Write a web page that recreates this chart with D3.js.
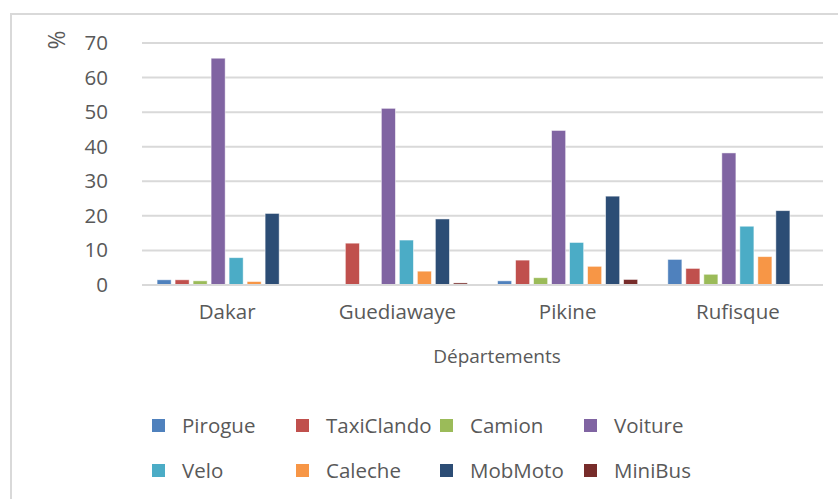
<!DOCTYPE html>
<html>
<head>
<meta charset="utf-8">
<script src="https://cdn.jsdelivr.net/npm/d3@7"></script>
<style>
  body { margin: 0; background: #fff; }
  svg { display: block; font-family: "Open Sans", sans-serif; }
</style>
</head>
<body>
<svg id="chart" width="838" height="499"></svg>
<script>
// Data
const departements = ["Dakar", "Guediawaye", "Pikine", "Rufisque"];
const modes = ["Pirogue", "TaxiClando", "Camion", "Voiture", "Velo", "Caleche", "MobMoto", "MiniBus"];
const pirogue    = [1.5, 0, 1.2, 7.4];
const taxiClando = [1.5, 12.1, 7.2, 4.8];
const camion     = [1.2, 0, 2.1, 3.1];
const voiture    = [65.6, 51.1, 44.7, 38.2];
const velo       = [7.9, 13.0, 12.3, 17.0];
const caleche    = [1.0, 4.0, 5.4, 8.2];
const mobMoto    = [20.7, 19.1, 25.7, 21.5];
const miniBus    = [0, 0.6, 1.6, 0];
const yTicks = [0, 10, 20, 30, 40, 50, 60, 70];

const colors = ["#4F81BD", "#C0504D", "#9BBB59", "#8064A2", "#4BACC6", "#F79646", "#2C4D75", "#772C2A"];
const seriesValues = [pirogue, taxiClando, camion, voiture, velo, caleche, mobMoto, miniBus];

const svg = d3.select("#chart");
const textColor = "#595959";
const gridColor = "#d9d9d9";

// Chart border (only left and top visible)
svg.append("path")
    .attr("d", "M11,499 V14 H838")
    .attr("fill", "none")
    .attr("stroke", gridColor)
    .attr("stroke-width", 2);

// Scales
const x0 = d3.scaleBand()
    .domain(departements)
    .range([142, 823])
    .paddingInner(0.154)
    .paddingOuter(0.077);

const x1 = d3.scaleBand()
    .domain(modes)
    .range([0, x0.bandwidth()])
    .paddingInner(0.22)
    .paddingOuter(0.11);

const y = d3.scaleLinear()
    .domain([0, 70])
    .range([285, 43]);

// Gridlines
svg.append("g")
    .selectAll("line")
    .data(yTicks)
    .join("line")
    .attr("x1", 142)
    .attr("x2", 823)
    .attr("y1", d => y(d))
    .attr("y2", d => y(d))
    .attr("stroke", gridColor)
    .attr("stroke-width", 2);

// Y axis labels
const yAxis = svg.append("g")
    .attr("transform", "translate(120,0)")
    .call(d3.axisLeft(y).tickValues(yTicks).tickSize(0).tickPadding(12));
yAxis.select(".domain").remove();
yAxis.selectAll("text")
    .attr("fill", textColor)
    .attr("font-size", 20.5)
    .attr("font-family", "Open Sans, sans-serif");

// Bars
const rows = departements.map((d, i) => ({ dep: d, values: modes.map((m, j) => ({ mode: m, value: seriesValues[j][i], color: colors[j] })) }));

svg.append("g")
    .selectAll("g")
    .data(rows)
    .join("g")
    .attr("transform", d => `translate(${x0(d.dep)},0)`)
    .selectAll("rect")
    .data(d => d.values.filter(v => v.value > 0))
    .join("rect")
    .attr("x", d => x1(d.mode))
    .attr("width", x1.bandwidth())
    .attr("y", d => y(d.value))
    .attr("height", d => y(0) - y(d.value))
    .attr("fill", d => d.color)
    .attr("stroke", "#fff")
    .attr("stroke-opacity", 0.6)
    .attr("stroke-width", 0.8);

// Baseline
svg.append("line")
    .attr("x1", 142).attr("x2", 823)
    .attr("y1", y(0)).attr("y2", y(0))
    .attr("stroke", gridColor)
    .attr("stroke-width", 2);

// X axis labels
const xAxis = svg.append("g")
    .attr("transform", `translate(0,${y(0)})`)
    .call(d3.axisBottom(x0).tickSize(0).tickPadding(19));
xAxis.select(".domain").remove();
xAxis.selectAll("text")
    .attr("fill", textColor)
    .attr("font-size", 20.5)
    .attr("font-family", "Open Sans, sans-serif");

// Axis titles
svg.append("text")
    .attr("x", 497)
    .attr("y", 363)
    .attr("text-anchor", "middle")
    .attr("fill", textColor)
    .attr("font-size", 19)
    .text("Départements");

svg.append("text")
    .attr("transform", "translate(65,40) rotate(-90)")
    .attr("text-anchor", "middle")
    .attr("fill", textColor)
    .attr("font-size", 23)
    .text("%");

// Legend
const legend = svg.append("g")
    .selectAll("g")
    .data(modes)
    .join("g")
    .attr("transform", (d, i) => `translate(${152 + (i % 4) * 144},${419 + Math.floor(i / 4) * 45})`);

legend.append("rect")
    .attr("width", 13)
    .attr("height", 13)
    .attr("fill", (d, i) => colors[i]);

legend.append("text")
    .attr("x", 30)
    .attr("y", 6.5)
    .attr("dy", "0.35em")
    .attr("fill", textColor)
    .attr("font-size", 20.5)
    .text(d => d);
</script>
</body>
</html>
